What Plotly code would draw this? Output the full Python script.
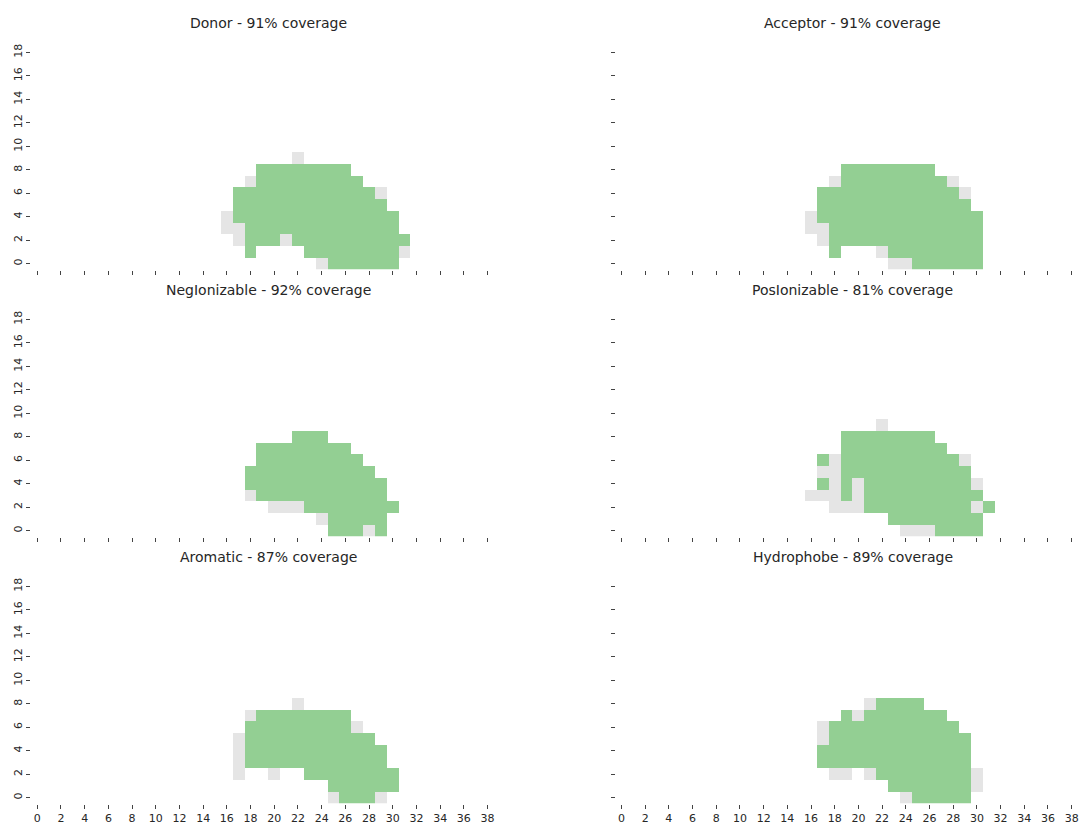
import plotly.graph_objects as go
from plotly.subplots import make_subplots

FIG_W, FIG_H = 1079, 825
GRID_W, GRID_H = 39, 19      # grid columns (x) and rows (y)
COL_OFFSET = 16              # row strings start at grid column 16
TOP_ROW = 9                  # row strings run from y=9 down to y=0

GREEN = "#93cf93"
GRAY = "#e5e5e5"
TEXT = "#262626"
FONT = "DejaVu Sans"

x_ticks = list(range(0, 39, 2))
y_ticks = list(range(0, 19, 2))

feature_names = ["Donor", "Acceptor", "NegIonizable",
                 "PosIonizable", "Aromatic", "Hydrophobe"]

# '.' = no grid point, 'x' = grid point not covered, 'g' = covered grid point
donor_rows = [
    "......x.........",
    "...gggggggg.....",
    "..xggggggggg....",
    ".ggggggggggggx..",
    ".ggggggggggggg..",
    "xgggggggggggggg.",
    "xxggggggggggggg.",
    ".xgggxgggggggggg",
    "..g....ggggggggx",
    "........xgggggg.",
]

acceptor_rows = [
    "................",
    "...gggggggg.....",
    "..xgggggggggx...",
    ".ggggggggggggx..",
    ".ggggggggggggg..",
    "xgggggggggggggg.",
    "xxggggggggggggg.",
    ".xggggggggggggg.",
    "..g...xgggggggg.",
    ".......xxgggggg.",
]

negionizable_rows = [
    "................",
    "......ggg.......",
    "...gggggggg.....",
    "...ggggggggg....",
    "..ggggggggggg...",
    "..gggggggggggg..",
    "..xggggggggggg..",
    "....xxxgggggggg.",
    "........xggggg..",
    ".........gggxg..",
]

posionizable_rows = [
    "......x.........",
    "...gggggggg.....",
    "...ggggggggg....",
    ".gxggggggggggx..",
    ".xxggggggggggg..",
    ".gxgxgggggggggx.",
    "xxxgxgggggggggg.",
    "..xxxgggggggggxg",
    ".......gggggggg.",
    "........xxxgggg.",
]

aromatic_rows = [
    "................",
    "......x.........",
    "..xgggggggg.....",
    "..gggggggggx....",
    ".xggggggggggg...",
    ".xgggggggggggg..",
    ".xgggggggggggg..",
    ".x..x..gggggggg.",
    ".........gggggg.",
    ".........xgggx..",
]

hydrophobe_rows = [
    "................",
    ".....xgggg......",
    "...gxggggggg....",
    ".xggggggggggg...",
    ".xgggggggggggg..",
    ".ggggggggggggg..",
    ".ggggggggggggg..",
    "..xx.xggggggggx.",
    ".......gggggggx.",
    "........xggggg..",
]

feature_rows = [donor_rows, acceptor_rows, negionizable_rows,
                posionizable_rows, aromatic_rows, hydrophobe_rows]


def to_grid(rows):
    z = [[None] * GRID_W for _ in range(GRID_H)]
    covered = total = 0
    for k, line in enumerate(rows):
        y = TOP_ROW - k
        for i, ch in enumerate(line):
            if ch == "x":
                z[y][COL_OFFSET + i] = 0
                total += 1
            elif ch == "g":
                z[y][COL_OFFSET + i] = 1
                covered += 1
                total += 1
    return z, covered / total


# panel placement in pixels (left, right) and (bottom, top)
col_px = [(31.4, 493.9), (616.1, 1078.6)]
row_px = [(267.9, 43.7), (536.2, 312.0), (804.5, 580.3)]

fig = make_subplots(rows=3, cols=2)
annotations = []

for idx, (name, rows) in enumerate(zip(feature_names, feature_rows)):
    r, c = divmod(idx, 2)
    z, cov = to_grid(rows)
    fig.add_trace(
        go.Heatmap(
            z=z,
            x=list(range(GRID_W)),
            y=list(range(GRID_H)),
            zmin=0, zmax=1,
            colorscale=[[0, GRAY], [0.5, GRAY], [0.5, GREEN], [1, GREEN]],
            showscale=False,
            hoverinfo="skip",
        ),
        row=r + 1, col=c + 1,
    )
    n = idx + 1
    xa = "xaxis" if n == 1 else f"xaxis{n}"
    ya = "yaxis" if n == 1 else f"yaxis{n}"
    x0, x1 = col_px[c]
    yb, yt = row_px[r]
    fig.layout[xa].update(
        domain=[x0 / FIG_W, x1 / FIG_W],
        range=[-0.5, GRID_W - 0.5],
        tickmode="array", tickvals=x_ticks, ticktext=[str(t) for t in x_ticks],
        showticklabels=(r == 2),
        ticks="outside", ticklen=4, tickwidth=1, tickcolor="#444444",
        showgrid=False, zeroline=False, showline=False,
        tickfont=dict(family=FONT, size=11, color=TEXT),
    )
    fig.layout[ya].update(
        domain=[1 - yb / FIG_H, 1 - yt / FIG_H],
        range=[-0.5, GRID_H - 0.5],
        tickmode="array", tickvals=y_ticks, ticktext=[str(t) for t in y_ticks],
        showticklabels=(c == 0),
        tickangle=-90,
        ticks="outside", ticklen=4, tickwidth=1, tickcolor="#444444",
        showgrid=False, zeroline=False, showline=False,
        tickfont=dict(family=FONT, size=11, color=TEXT),
    )
    annotations.append(dict(
        text=f"{name} - {cov * 100:.0f}% coverage",
        x=((x0 + x1) / 2 + 6) / FIG_W, xref="paper", xanchor="center",
        y=1 - (yt - 23.5) / FIG_H, yref="paper", yanchor="middle",
        showarrow=False,
        font=dict(family=FONT, size=14, color=TEXT),
    ))

fig.update_layout(
    width=FIG_W, height=FIG_H,
    margin=dict(l=0, r=0, t=0, b=0),
    paper_bgcolor="white", plot_bgcolor="white",
    annotations=annotations,
    showlegend=False,
)

fig.write_html("out.html")
